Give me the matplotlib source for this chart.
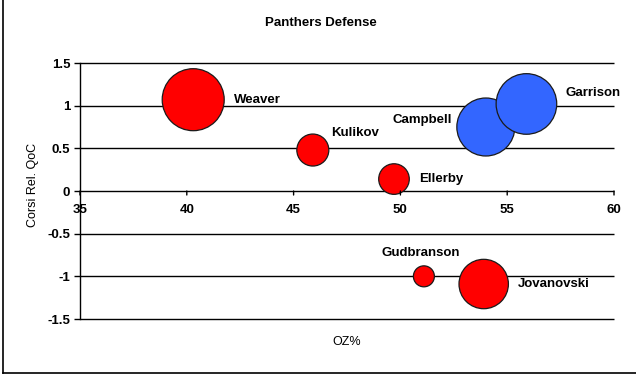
import matplotlib.pyplot as plt
from matplotlib.lines import Line2D

plt.rcParams["font.family"] = ["Liberation Sans", "DejaVu Sans"]

players = ["Weaver", "Kulikov", "Ellerby", "Campbell", "Garrison", "Gudbranson", "Jovanovski"]
oz_pct = [40.3, 45.9, 49.7, 54.0, 55.9, 51.1, 53.9]
corsi_rel_qoc = [1.07, 0.48, 0.14, 0.75, 1.02, -1.0, -1.09]
bubble_value = [961, 256, 234, 841, 918, 110, 610]
colors = ["#ff0000", "#ff0000", "#ff0000", "#3366ff", "#3366ff", "#ff0000", "#ff0000"]
x_ticks = [35, 40, 45, 50, 55, 60]
y_ticks = [-1.5, -1, -0.5, 0, 0.5, 1, 1.5]
y_tick_labels = ["-1.5", "-1", "-0.5", "0", "0.5", "1", "1.5"]

# label placement (pixel offsets from bubble centre, horizontal alignment)
label_offsets = {
    "Weaver": (41, 0, "left"),
    "Kulikov": (18, 17, "left"),
    "Ellerby": (25, 0, "left"),
    "Campbell": (-34, 7, "right"),
    "Garrison": (39, 11, "left"),
    "Gudbranson": (-3, 23, "center"),
    "Jovanovski": (34, 0, "left"),
}

W, H = 636, 377
PX = 0.72  # points per pixel at dpi 100
fig = plt.figure(figsize=(W / 100, H / 100), dpi=100)
ax = fig.add_axes([80 / W, 1 - 319 / H, (614 - 80) / W, (319 - 63) / H])

# bubble area proportional to value; value 961 -> radius 31 px
sizes = [(2 * 31 * PX) ** 2 * v / 961 for v in bubble_value]
ax.scatter(oz_pct, corsi_rel_qoc, s=sizes, c=colors, edgecolors="#1a1a1a",
           linewidths=0.9, zorder=3)

for name, x, y in zip(players, oz_pct, corsi_rel_qoc):
    dx, dy, ha = label_offsets[name]
    ax.annotate(name, (x, y), xytext=(dx * PX, dy * PX),
                textcoords="offset points", ha=ha, va="center",
                fontsize=9.5, fontweight="bold", zorder=4)

ax.set_xlim(35, 60)
ax.set_ylim(-1.5, 1.5)
ax.set_yticks(y_ticks)
ax.set_yticklabels(y_tick_labels)
ax.hlines(y_ticks, 35, 60, colors="black", linewidth=1.0, zorder=1,
          clip_on=False)

for side in ["top", "right", "bottom"]:
    ax.spines[side].set_visible(False)
ax.spines["left"].set_linewidth(1.0)

ax.tick_params(axis="y", direction="out", length=4, width=1.0, pad=3,
               labelsize=9.5)
for lbl in ax.get_yticklabels():
    lbl.set_fontweight("bold")

# x axis crosses at y = 0
ax.tick_params(axis="x", bottom=False, labelbottom=False)
for xt in x_ticks:
    ax.annotate("", (xt, 0), xytext=(0, -4 * PX), textcoords="offset points",
                arrowprops=dict(arrowstyle="-", color="black", linewidth=1.0,
                                shrinkA=0, shrinkB=0))
    ax.annotate(str(xt), (xt, 0), xytext=(0, -19 * PX),
                textcoords="offset points", ha="center", va="center",
                fontsize=9.5, fontweight="bold")

fig.text(321 / W, 1 - 23 / H, "Panthers Defense", ha="center", va="center",
         fontsize=9.5, fontweight="bold")
fig.text(33 / W, 1 - 185 / H, "Corsi Rel. QoC", ha="center", va="center",
         rotation=90, fontsize=9)
fig.text(347 / W, 1 - 342 / H, "OZ%", ha="center", va="center", fontsize=9)

# chart frame (left and bottom edges visible)
fig.add_artist(Line2D([2.5 / W, 2.5 / W], [1, 1 - 373 / H], color="black",
                      linewidth=1.2, transform=fig.transFigure))
fig.add_artist(Line2D([2.5 / W, 1], [1 - 373 / H, 1 - 373 / H], color="black",
                      linewidth=1.2, transform=fig.transFigure))

fig.savefig("out.png", dpi=100)
